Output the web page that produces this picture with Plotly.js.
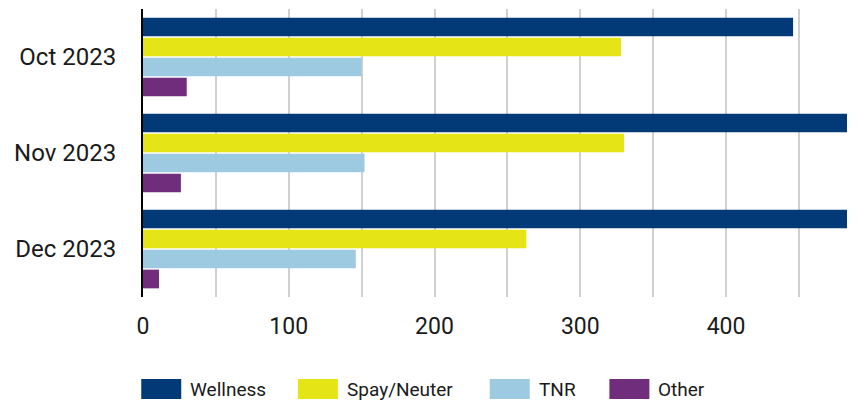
<!DOCTYPE html>
<html>
<head>
<meta charset="utf-8">
<script src="https://cdn.plot.ly/plotly-3.0.1.min.js"></script>
<style>html,body{margin:0;padding:0;background:#fff;}#chart{width:865px;height:401px;}</style>
</head>
<body>
<div id="chart"></div>
<script>
const categories = ["Oct 2023", "Nov 2023", "Dec 2023"];
const seriesNames = ["Wellness", "Spay/Neuter", "TNR", "Other"];
const wellness = [446, 510, 505];
const spayNeuter = [328, 330, 263];
const tnr = [150, 152, 146];
const other = [30, 26, 11];
const xTickVals = [0, 100, 200, 300, 400];
const xTickText = ["0", "100", "200", "300", "400"];

const colors = ["#023a78", "#e4e416", "#9ecae1", "#702d7b"];
const seriesValues = [wellness, spayNeuter, tnr, other];
const FONT = "Roboto, 'Open Sans', sans-serif";

const traces = seriesNames.map((name, i) => ({
  type: "bar",
  orientation: "h",
  name: name,
  y: categories,
  x: seriesValues[i],
  marker: {color: colors[i], line: {width: 0}},
  showlegend: false,
  hoverinfo: "x+name"
}));

// custom legend (large swatches) in paper coordinates
const legendX = [-0.0025, 0.22, 0.4925, 0.6625]; // swatch left edges (paper)
const plotW = 865 - 143 - 18;
const swW = 40 / plotW;
const shapes = [];
const annotations = [];
seriesNames.forEach((name, i) => {
  shapes.push({
    type: "rect", xref: "paper", yref: "paper",
    x0: legendX[i], x1: legendX[i] + swW,
    y0: -0.354, y1: -0.285,
    fillcolor: colors[i], line: {width: 0}
  });
  annotations.push({
    xref: "paper", yref: "paper",
    x: legendX[i] + swW + 7 / plotW, y: -0.321,
    xanchor: "left", yanchor: "middle",
    text: name, showarrow: false,
    font: {family: FONT, size: 19, color: "#1a1a1a"}
  });
});

const layout = {
  width: 865, height: 401,
  margin: {l: 143, r: 18, t: 9, b: 104},
  paper_bgcolor: "#ffffff", plot_bgcolor: "#ffffff",
  barmode: "group",
  bargap: 0.1667,
  bargroupgap: 0.065,
  showlegend: false,
  font: {family: FONT, color: "#1a1a1a"},
  xaxis: {
    range: [0, 483],
    tickvals: xTickVals,
    ticktext: xTickText,
    showgrid: true, gridcolor: "#d0d0d0", gridwidth: 2,
    minor: {dtick: 50, tick0: 0, showgrid: true, gridcolor: "#d0d0d0", gridwidth: 2, ticks: ""},
    zeroline: false,
    showline: false,
    ticks: "",
    ticklabelstandoff: 13,
    tickfont: {family: FONT, size: 23, color: "#1a1a1a"},
    fixedrange: true
  },
  yaxis: {
    type: "category",
    autorange: "reversed",
    showgrid: false,
    zeroline: false,
    showline: true, linecolor: "#000000", linewidth: 2,
    ticks: "",
    ticklabelstandoff: 20,
    tickfont: {family: FONT, size: 24, color: "#1a1a1a"},
    fixedrange: true
  },
  shapes: shapes,
  annotations: annotations
};

Plotly.newPlot("chart", traces, layout, {displayModeBar: false, staticPlot: true});
</script>
</body>
</html>
